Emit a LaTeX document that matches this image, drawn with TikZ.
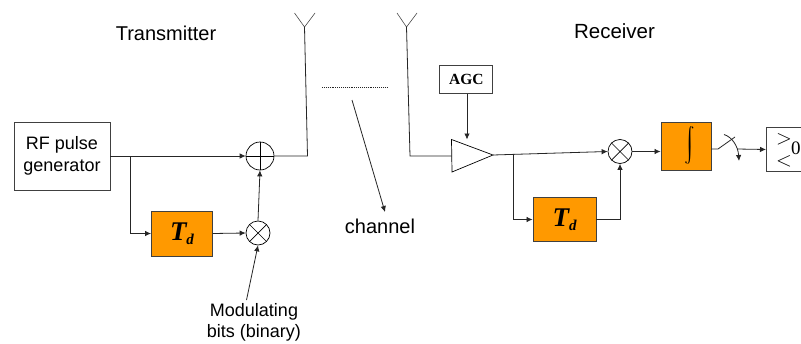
\documentclass[tikz,border=0pt]{standalone}
\usepackage{fontspec}
\setmainfont{Liberation Sans}
\newfontfamily\serifb{Liberation Serif}
\usetikzlibrary{arrows.meta,shapes.geometric}
\definecolor{boxorange}{RGB}{255,153,0}
\tikzset{
 x=1pt,y=-1pt,
 wire/.style={line width=0.8pt,draw=black!85},
 arr/.style={wire,-{Latex[length=6pt,width=5.5pt]}},
 whitebox/.style={draw=black!75,line width=0.9pt,fill=white,minimum width=#1,inner sep=0pt,align=center},
 orangebox/.style={draw=black!75,line width=0.9pt,fill=boxorange,inner sep=0pt},
 sumnode/.style={circle,draw=black,line width=0.7pt,minimum size=#1,inner sep=0pt},
 lbl/.style={inner sep=0pt,align=center},
}
\newcommand{\delaytext}{\serifb\fontsize{27}{27}\selectfont\bfseries\itshape T\raisebox{-4pt}{\fontsize{15}{15}\selectfont d}}
\begin{document}
\begin{tikzpicture}
\useasboundingbox (0,0) rectangle (801,343);
\fill[white] (0,0) rectangle (801,343);
% transmitter
\node[whitebox=96pt,minimum height=68pt,font=\fontsize{18}{22}\selectfont] (rf) at (62,156) {RF pulse\\generator};
\node[orangebox,minimum width=61pt,minimum height=45pt] (td1) at (182,233.5) {\delaytext};
\node[sumnode=28pt] (add) at (260,156) {};
\draw[line width=0.7pt] (add.north)--(add.south) (add.west)--(add.east);
\node[sumnode=24pt] (mul1) at (258,233) {};
\draw[line width=0.7pt] (mul1.north west)--(mul1.south east) (mul1.north east)--(mul1.south west);
\coordinate (tap1) at (130,156);
\coordinate (txc) at (307.5,156);
\coordinate (txa) at (304.5,27);
\coordinate (bitsend) at (246.5,300);
\draw[arr] (rf.east |- tap1) -- (add.west);
\draw[arr] (tap1) |- (td1.west);
\draw[arr] (td1.east) -- (mul1.west);
\draw[arr] (mul1.north) -- (add.south);
\draw[arr] (bitsend) -- (mul1.south);
\draw[wire] (add.east) -- (txc) -- (txa);
\draw[line width=0.6pt,draw=black!70] (txa) -- (294.5,13) (txa) -- (315,13);
\node[lbl,font=\fontsize{20}{24}\selectfont] (txl) at (166,33) {Transmitter};
\node[lbl,font=\fontsize{18}{21}\selectfont] (bits) at (254,322) {Modulating\\bits (binary)};
% channel
\coordinate (dl) at (322,87.5);
\coordinate (dr) at (388,87.5);
\draw[line width=1pt,draw=black!85,dash pattern=on 1pt off 0.9pt] (dl) -- (dr);
\node[lbl,font=\fontsize{20}{24}\selectfont] (chan) at (380,226) {channel};
\coordinate (chs) at (352,100);
\draw[arr] (chs) -- (385,212);
% receiver
\node[lbl,font=\fontsize{20.5}{24}\selectfont] (rxl) at (614.5,31) {Receiver};
\node[whitebox=53pt,minimum height=28pt,font=\serifb\fontsize{15.5}{16}\selectfont\bfseries] (agc) at (466.3,79.7) {AGC};
\coordinate (rxa) at (406.5,27);
\coordinate (rxc) at (410,156);
\coordinate (a1) at (451.5,139.5);
\coordinate (a2) at (452,172);
\coordinate (a3) at (493,155);
\draw[line width=0.6pt,draw=black!70] (rxa) -- (397,13) (rxa) -- (417,13);
\draw[wire] (rxa) -- (rxc) -- (451.5,156);
\draw[line width=0.7pt,fill=white] (a1) -- (a3) -- (a2) -- cycle;
\draw[arr] (467,93.7) -- (467,139.5);
\node[sumnode=24pt] (mul2) at (620,151.5) {};
\draw[line width=0.7pt] (mul2.north west)--(mul2.south east) (mul2.north east)--(mul2.south west);
\node[orangebox,minimum width=63pt,minimum height=44pt] (td2) at (564.5,219.5) {\delaytext};
\node[orangebox,minimum width=50pt,minimum height=48pt] (int) at (686,146) {};
\node[lbl,transform shape,xslant=-0.2] (intsym) at (689.5,145.5) {\scalebox{1.7}{$\displaystyle\int$}};
\node[whitebox=36pt,minimum height=43.5pt,anchor=west] (cmp) at (766,149.5) {};
\coordinate (tap2) at (513,154.5);
\draw[arr] (a3) -- (mul2.west);
\draw[arr] (tap2) |- (td2.west);
\draw[arr] (td2.east) -| (mul2.south);
\draw[arr] (mul2.east) -- (int.west |- mul2.east);
\coordinate (s1) at (710,149);
\coordinate (s2) at (718,149);
\coordinate (s3) at (735,137);
\coordinate (sw) at (724,134.5);
\draw[wire] (int.east |- s1) -- (s2) -- (s3);
\draw[wire,-{Latex[length=6pt,width=5.5pt]}] (sw) .. controls (732,137) and (738,146) .. (739,161);
\draw[arr] (737,149) -- (cmp.west);
\node[lbl,font=\fontsize{21}{21}\selectfont] (gt) at (784,139) {$>$};
\node[lbl,font=\fontsize{21}{21}\selectfont] (lt) at (784,161.5) {$<$};
\node[lbl,font=\serifb\fontsize{19}{19}\selectfont,anchor=west] (zero) at (791,148.5) {0};
\end{tikzpicture}
\end{document}
